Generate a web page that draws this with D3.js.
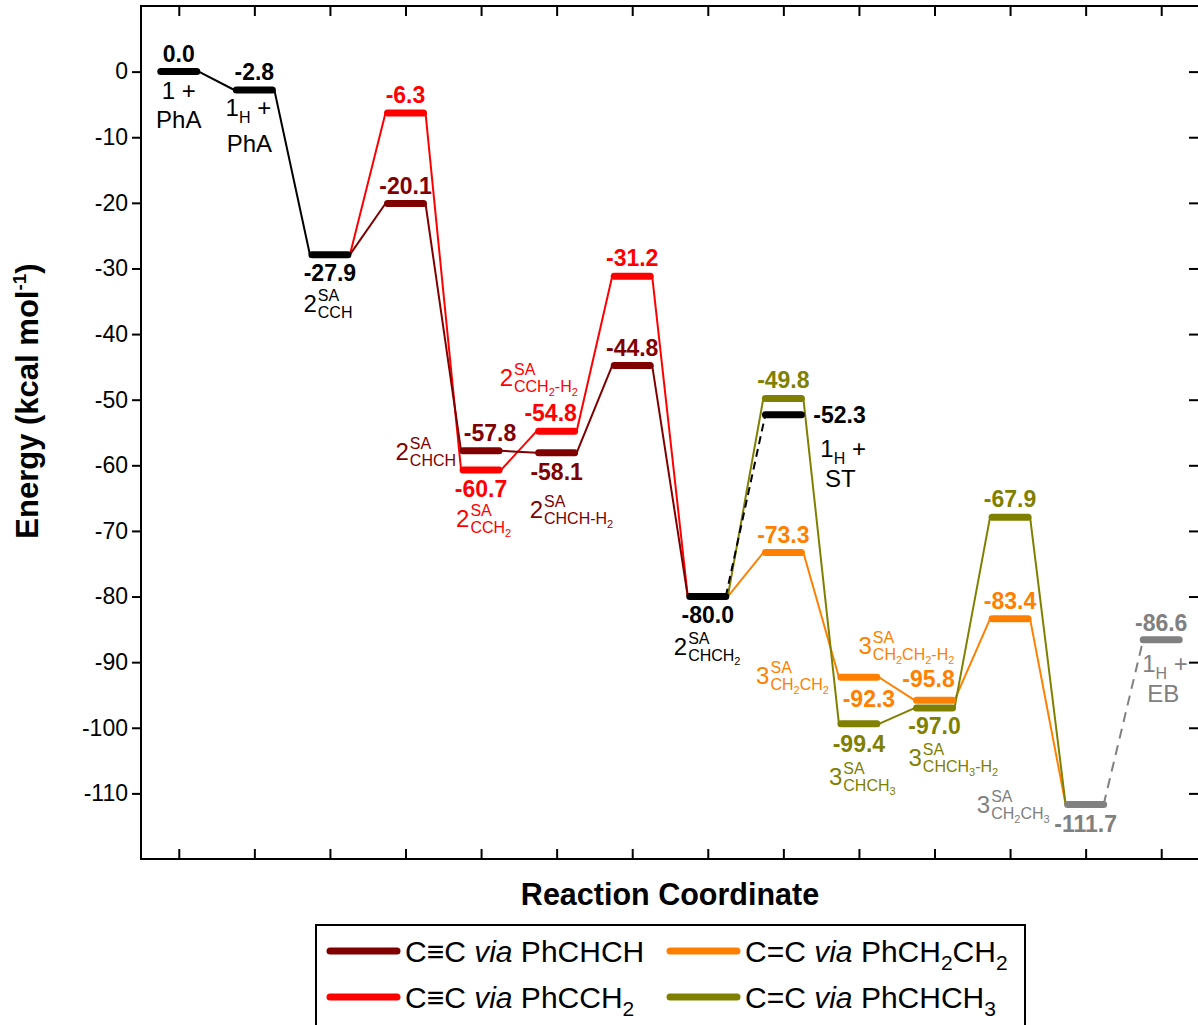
<!DOCTYPE html>
<html><head><meta charset="utf-8">
<script src="https://cdn.jsdelivr.net/npm/d3@7"></script>
<style>
body{margin:0;background:#fff}
svg{display:block}
text{font-family:"Liberation Sans",Arial,Helvetica,sans-serif}
</style>
</head><body>
<svg id="chart" width="1198" height="1025"></svg>
<script>
// ---------------- data ----------------
const coordinates = d3.range(14);               // reaction-coordinate slots
const yTickValues = [0,-10,-20,-30,-40,-50,-60,-70,-80,-90,-100,-110];

const mainPos   = [0, 1, 2, 7];
const mainE     = [0.0, -2.8, -27.9, -80.0];
const chchPos   = [3, 4, 5, 6];                 // C≡C via PhCHCH
const chchE     = [-20.1, -57.8, -58.1, -44.8];
const cch2Pos   = [3, 4, 5, 6];                 // C≡C via PhCCH2
const cch2E     = [-6.3, -60.7, -54.8, -31.2];
const ch2ch2Pos = [8, 9, 10, 11];               // C=C via PhCH2CH2
const ch2ch2E   = [-73.3, -92.3, -95.8, -83.4];
const chch3Pos  = [8, 9, 10, 11];               // C=C via PhCHCH3
const chch3E    = [-49.8, -99.4, -97.0, -67.9];
const stPos     = [8];                          // 1H + ST
const stE       = [-52.3];
const ebPos     = [12, 13];                     // 3SA CH2CH3, 1H + EB
const ebE       = [-111.7, -86.6];

const legendNames = ["C≡C via PhCHCH", "C≡C via PhCCH2", "C=C via PhCH2CH2", "C=C via PhCHCH3"];

// ---------------- layout ----------------
const plot = {l:141, r:1199, t:6, b:859};
const svg = d3.select("#chart");
const x = d3.scaleLinear().domain([-0.5, 13.5]).range([plot.l, plot.r]);
const y = d3.scaleLinear().domain([-120, 10]).range([plot.b, plot.t]);
const HW = 18;      // half width of a level bar (without caps)
const CONN = 20;    // connector attach offset

const C = {black:"#000000", dred:"#800000", red:"#ff0000", orange:"#ff8000", olive:"#808000", gray:"#808080"};

function lv(p, e){ return {p, e}; }
function zipLv(P, E){ return P.map((p,i)=>lv(p, E[i])); }

const mainL = zipLv(mainPos, mainE);
const chchL = zipLv(chchPos, chchE);
const cch2L = zipLv(cch2Pos, cch2E);
const ch2ch2L = zipLv(ch2ch2Pos, ch2ch2E);
const chch3L = zipLv(chch3Pos, chch3E);
const stL = zipLv(stPos, stE);
const ebL = zipLv(ebPos, ebE);

// ---------------- axes / frame ----------------
const fmt = d => String(d);
const gAxL = svg.append("g").attr("transform",`translate(${plot.l},0)`)
  .call(d3.axisLeft(y).tickValues(yTickValues).tickSize(9).tickPadding(4).tickFormat(fmt));
const gAxR = svg.append("g").attr("transform",`translate(${plot.r},0)`)
  .call(d3.axisRight(y).tickValues(yTickValues).tickSize(-10).tickFormat(""));
const gAxB = svg.append("g").attr("transform",`translate(0,${plot.b})`)
  .call(d3.axisBottom(x).tickValues(coordinates).tickSize(-10).tickFormat(""));
const gAxT = svg.append("g").attr("transform",`translate(0,${plot.t})`)
  .call(d3.axisTop(x).tickValues(coordinates).tickSize(-10).tickFormat(""));
[gAxL,gAxR,gAxB,gAxT].forEach(g=>{
  g.select(".domain").remove();
  g.selectAll(".tick line").attr("stroke","#000").attr("stroke-width",2);
});
gAxL.selectAll(".tick text").attr("font-size",23).attr("fill","#000")
  .attr("font-family",'"Liberation Sans",Arial,sans-serif');

svg.append("rect").attr("x",plot.l).attr("y",plot.t)
  .attr("width",plot.r-plot.l).attr("height",plot.b-plot.t)
  .attr("fill","none").attr("stroke","#000").attr("stroke-width",2);

// axis titles
const yt = svg.append("text").attr("transform","translate(38,401) rotate(-90)")
  .attr("text-anchor","middle").attr("font-size",31).attr("font-weight","bold");
yt.append("tspan").text("Energy (kcal mol");
yt.append("tspan").attr("font-size",19).attr("dy",-12).text("-1");
yt.append("tspan").attr("dy",12).text(")");

svg.append("text").attr("x",670).attr("y",905).attr("text-anchor","middle")
  .attr("font-size",30.5).attr("font-weight","bold").text("Reaction Coordinate");

// ---------------- connectors ----------------
const line = d3.line().x(d=>d[0]).y(d=>d[1]);
function pathPts(levels){
  const pts = [];
  levels.forEach(l=>{ pts.push([x(l.p)-CONN, y(l.e)]); pts.push([x(l.p)+CONN, y(l.e)]); });
  return pts;
}
function conn(levels, color, dash){
  svg.append("path").attr("d", line(pathPts(levels)))
    .attr("fill","none").attr("stroke",color).attr("stroke-width",2)
    .attr("stroke-linejoin","round")
    .attr("stroke-dasharray", dash || null);
}
const L2 = mainL[2], L7 = mainL[3];
conn([L2, ...cch2L, L7], C.red);
conn([L2, ...chchL, L7], C.dred);
conn([mainL[0], mainL[1], L2], C.black);
conn([L7, ...ch2ch2L, ebL[0]], C.orange);
conn([L7, ...chch3L, ebL[0]], C.olive);
// dashed links
function dashLink(a, b, color, dash){
  svg.append("line").attr("x1",x(a.p)+CONN-2).attr("y1",y(a.e))
    .attr("x2",x(b.p)-CONN+2).attr("y2",y(b.e))
    .attr("stroke",color).attr("stroke-width",2).attr("stroke-dasharray",dash);
}
dashLink(L7, stL[0], C.black, "8,5");
dashLink(ebL[0], ebL[1], C.gray, "10,7");

// ---------------- level bars ----------------
function bars(levels, color){
  svg.append("g").selectAll("line").data(levels).join("line")
    .attr("x1", d=>x(d.p)-HW).attr("x2", d=>x(d.p)+HW)
    .attr("y1", d=>y(d.e)).attr("y2", d=>y(d.e))
    .attr("stroke", color).attr("stroke-width", 7).attr("stroke-linecap","round");
}
bars(chchL, C.dred);
bars(cch2L, C.red);
bars(ch2ch2L, C.orange);
bars(chch3L, C.olive);
bars(stL, C.black);
bars(mainL, C.black);
bars([ebL[0], ebL[1]], C.gray);

// ---------------- value labels ----------------
const valOffset = {
  "2|-27.9":[0,26], "7|-80":[0,26],
  "4|-57.8":[9,-10], "5|-58.1":[0,27],
  "4|-60.7":[0,27], "5|-54.8":[-6,-10],
  "9|-92.3":[10,30], "10|-95.8":[-6,-13],
  "9|-99.4":[0,28], "10|-97":[0,26],
  "8|-52.3":[30,8,"start"],
  "12|-111.7":[0,27], "13|-86.6":[0,-9]
};
function valLabels(levels, color){
  levels.forEach(l=>{
    const o = valOffset[`${l.p}|${l.e}`] || [0,-10];
    svg.append("text").attr("x", x(l.p)+o[0]).attr("y", y(l.e)+o[1])
      .attr("text-anchor", o[2] || "middle")
      .attr("font-size",23).attr("font-weight","bold").attr("fill",color)
      .text(l.e.toFixed(1));
  });
}
valLabels(mainL, C.black);
valLabels(chchL, C.dred);
valLabels(cch2L, C.red);
valLabels(ch2ch2L, C.orange);
valLabels(chch3L, C.olive);
valLabels(stL, C.black);
valLabels(ebL, C.gray);

// ---------------- species labels ----------------
// subscript string: "_X" marks a lowered (sub-sub) character
function fillSub(t, s, size, small, drop){
  let low = false;
  for(let i=0;i<s.length;i++){
    if(s[i]==="_"){
      const ch = s[i+1]; i++;
      const ts = t.append("tspan").attr("font-size",small).text(ch);
      if(!low){ ts.attr("dy",drop); low = true; }
    } else {
      let j=i; let str="";
      while(j<s.length && s[j]!=="_"){ str+=s[j]; j++; }
      i=j-1;
      const ts = t.append("tspan").attr("font-size",size).text(str);
      if(low){ ts.attr("dy",-drop); low=false; }
    }
  }
}
function stacked(lvl, dx, dy, anchor, main, sup, sub, color){
  const g = svg.append("g").attr("fill", color);
  const t1 = g.append("text").attr("x",0).attr("y",0).attr("font-size",24).text(main);
  const w1 = t1.node().getComputedTextLength();
  const t2 = g.append("text").attr("x",w1+1).attr("y",-11).attr("font-size",16).text(sup);
  const t3 = g.append("text").attr("x",w1+1).attr("y",6);
  fillSub(t3, sub, 16, 11, 4);
  const w = w1 + 1 + Math.max(t2.node().getComputedTextLength(), t3.node().getComputedTextLength());
  const ax = x(lvl.p)+dx, ay = y(lvl.e)+dy;
  const ox = anchor==="end" ? ax-w : anchor==="middle" ? ax-w/2 : ax;
  g.attr("transform",`translate(${ox},${ay})`);
}
function oneH(lvl, dx, dy, anchor, color){
  const t = svg.append("text").attr("x",x(lvl.p)+dx).attr("y",y(lvl.e)+dy)
    .attr("text-anchor",anchor).attr("font-size",24).attr("fill",color);
  t.append("tspan").text("1");
  t.append("tspan").attr("font-size",16).attr("dy",7).text("H");
  t.append("tspan").attr("dy",-7).text(" +");
}
function plain(lvl, dx, dy, anchor, str, color){
  svg.append("text").attr("x",x(lvl.p)+dx).attr("y",y(lvl.e)+dy)
    .attr("text-anchor",anchor).attr("font-size",24).attr("fill",color).text(str);
}

plain(mainL[0], 0, 27, "middle", "1 +", C.black);
plain(mainL[0], 0, 56, "middle", "PhA", C.black);
oneH(mainL[1], -6, 26, "middle", C.black);
plain(mainL[1], -5, 62, "middle", "PhA", C.black);
stacked(mainL[2], -2, 57, "middle", "2", "SA", "CCH", C.black);
stacked(chchL[1], -25, 9, "end", "2", "SA", "CHCH", C.dred);
stacked(cch2L[1], -25, 57, "start", "2", "SA", "CCH_2", C.red);
stacked(cch2L[2], -57, -45, "start", "2", "SA", "CCH_2-H_2", C.red);
stacked(chchL[2], -27, 65, "start", "2", "SA", "CHCH-H_2", C.dred);
stacked(mainL[3], -34, 58, "start", "2", "SA", "CHCH_2", C.black);
oneH(stL[0], 37, 42, "start", C.black);
plain(stL[0], 57, 72, "middle", "ST", C.black);
stacked(ch2ch2L[1], -30, 7, "end", "3", "SA", "CH_2CH_2", C.orange);
stacked(ch2ch2L[2], -76, -46, "start", "3", "SA", "CH_2CH_2-H_2", C.orange);
stacked(chch3L[1], -30, 61, "start", "3", "SA", "CHCH_3", C.olive);
stacked(chch3L[2], -26, 58, "start", "3", "SA", "CHCH_3-H_2", C.olive);
stacked(ebL[0], -36, 8, "end", "3", "SA", "CH_2CH_3", C.gray);
oneH(ebL[1], -19, 32, "start", C.gray);
plain(ebL[1], 2, 62, "middle", "EB", C.gray);

// ---------------- legend ----------------
svg.append("rect").attr("x",316).attr("y",925).attr("width",709).attr("height",120)
  .attr("fill","#fff").attr("stroke","#000").attr("stroke-width",2);
const legendColors = [C.dred, C.red, C.orange, C.olive];
const legendPos = [[330,951],[330,997],[670,951],[670,997]];
legendNames.forEach((name,i)=>{
  const [lx,ly] = legendPos[i];
  svg.append("line").attr("x1",lx).attr("x2",lx+67).attr("y1",ly).attr("y2",ly)
    .attr("stroke",legendColors[i]).attr("stroke-width",7).attr("stroke-linecap","round");
  const t = svg.append("text").attr("x",lx+75).attr("y",ly+11).attr("font-size",30);
  const parts = name.split(" via ");
  t.append("tspan").text(parts[0]+" ");
  t.append("tspan").attr("font-style","italic").text("via");
  const chem = " " + parts[1];
  // digits become subscripts
  let low=false;
  chem.split(/(\d)/).filter(s=>s.length).forEach(s=>{
    const ts = t.append("tspan");
    if(/\d/.test(s)){ ts.attr("font-size",21).text(s); if(!low){ts.attr("dy",8); low=true;} }
    else { ts.text(s); if(low){ts.attr("dy",-8); low=false;} }
  });
});
</script>
</body></html>
